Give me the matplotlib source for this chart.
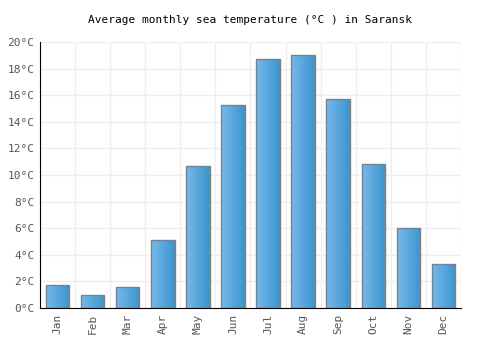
import numpy as np
import matplotlib.pyplot as plt
from matplotlib.patches import Rectangle
from matplotlib.colors import LinearSegmentedColormap

months = ['Jan', 'Feb', 'Mar', 'Apr', 'May', 'Jun',
          'Jul', 'Aug', 'Sep', 'Oct', 'Nov', 'Dec']
temps = [1.7, 1.0, 1.6, 5.1, 10.7, 15.3, 18.7, 19.0, 15.7, 10.8, 6.0, 3.3]
yticks = [0, 2, 4, 6, 8, 10, 12, 14, 16, 18, 20]

plt.rcParams['font.family'] = ['DejaVu Sans Mono']

fig = plt.figure(figsize=(5, 3.5), dpi=100)
ax = fig.add_axes([0.08, 0.12, 0.842, 0.76])

x = np.arange(len(months))
width = 0.67
cmap = LinearSegmentedColormap.from_list('blues', ['#78b8ea', '#3a96cf'])
grad = np.linspace(0, 1, 64).reshape(1, -1)

for xi, t in zip(x, temps):
    left = xi - width / 2
    im = ax.imshow(grad, cmap=cmap, aspect='auto', extent=[left, left + width, 0, t],
                   zorder=2, interpolation='bilinear')
    rect = Rectangle((left, 0), width, t, facecolor='none', edgecolor='#808080',
                     linewidth=1, zorder=3)
    ax.add_patch(rect)
    im.set_clip_path(rect)

ax.set_xlim(-0.5, len(months) - 0.5)
ax.set_ylim(0, 20)
ax.set_xticks(x)
ax.set_xticklabels(months, rotation=90, color='#555555', fontsize=8)
ax.set_yticks(yticks)
ax.set_yticklabels([f'{v}°C' for v in yticks], color='#555555', fontsize=8)
ax.set_xticks(np.arange(-0.5, len(months), 1), minor=True)
ax.grid(True, axis='y', color='#eeeeee', linewidth=1, zorder=0)
ax.grid(True, axis='x', which='minor', color='#eeeeee', linewidth=1, zorder=0)
ax.tick_params(axis='both', which='both', length=0, pad=4)
for s in ['top', 'right']:
    ax.spines[s].set_visible(False)
ax.spines['left'].set_color('black')
ax.spines['bottom'].set_color('black')
ax.set_axisbelow(True)

ax.set_title('Average monthly sea temperature (°C ) in Saransk', fontsize=8, pad=14)

fig.savefig('out.png', dpi=100)
